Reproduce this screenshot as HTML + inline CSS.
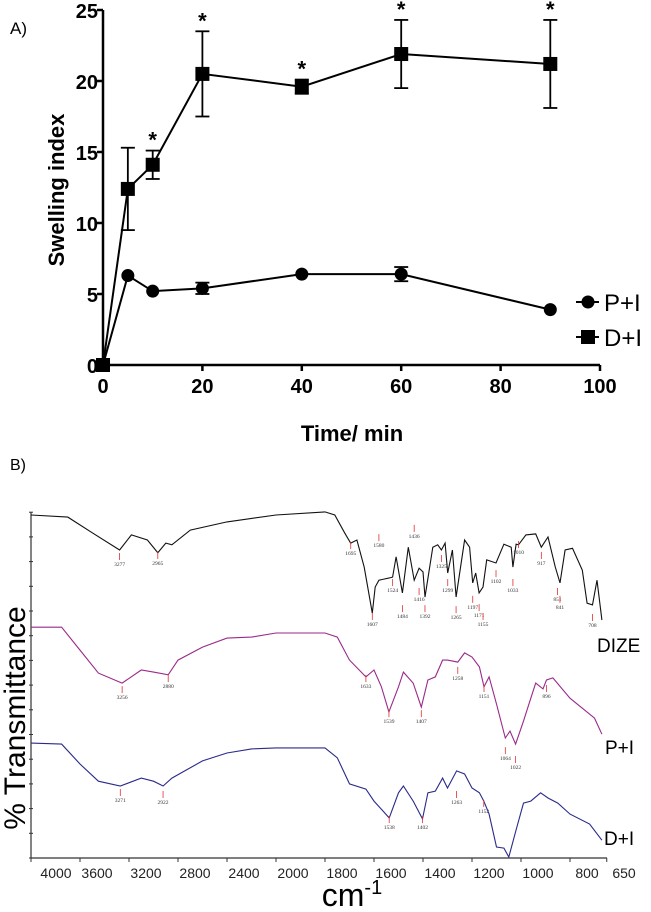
<!DOCTYPE html>
<html><head><meta charset="utf-8">
<style>
html,body{margin:0;padding:0;background:#fff;}
svg{display:block;font-family:"Liberation Sans",sans-serif;}
</style></head>
<body>
<svg id="fig" width="651" height="912" viewBox="0 0 651 912">
<g id="panelA"></g>
<g id="panelB"></g>
</svg>
<script>
// ---------- Panel A data ----------
const times = [0,5,10,20,40,60,90];
const dPlusI = [0,12.4,14.1,20.5,19.6,21.9,21.2];
const dPlusIErr = [0,2.9,1.0,3.0,0.5,2.4,3.1];
const pPlusI = [0,6.3,5.2,5.4,6.4,6.4,3.9];
const pPlusIErr = [0,0.2,0.2,0.4,0.2,0.5,0.2];
const starFlags = [0,0,1,1,1,1,1];
const xTicks = [0,20,40,60,80,100];
const yTicks = [0,5,10,15,20,25];

// ---------- Panel B data ----------
const wnTicks = [4000,3600,3200,2800,2400,2000,1800,1600,1400,1200,1000,800,650];
const dizeWn = [4000,3700,3500,3277,3180,3050,2965,2900,2850,2700,2400,2000,1800,1760,1720,1695,1670,1640,1607,1595,1580,1540,1524,1510,1484,1460,1436,1416,1400,1392,1360,1340,1325,1310,1299,1280,1265,1230,1210,1197,1185,1171,1155,1140,1102,1070,1040,1033,1020,1010,980,940,917,890,860,841,820,790,750,730,708,690,670];
const dizeT = [100,99.4,94.8,89.8,94.2,92.7,89,91.8,91.3,95.6,98,100,100.9,100,94.8,91.8,92.7,84.8,71.4,79,81,81.6,81.9,87.8,77.3,90.6,81,84.5,83.4,76.1,90.6,91.3,89.8,91.8,83.1,89.8,76.1,92.7,90.6,80.2,83.1,77.3,79,86.9,86,91.5,90.6,84.8,91.5,91.3,94.2,94.5,90.6,93.6,84.8,80.2,89.8,90.3,83.9,74.3,73.8,81,69.4];
const pWn = [4000,3750,3600,3450,3256,3100,3000,2880,2800,2600,2400,2200,2000,1800,1750,1700,1633,1600,1570,1539,1500,1480,1440,1407,1380,1350,1320,1300,1258,1230,1200,1170,1151,1130,1100,1064,1045,1022,990,960,940,910,896,870,800,700,670];
const pT = [67.3,67.3,60.6,53.9,51,54.8,54.2,53.4,57.7,61.5,64.1,64.4,65.6,65.6,64.4,57.7,52.8,54.8,49.9,42.6,49.9,54.2,51,44,51.9,52.8,57.7,57.7,57.1,59.8,58.6,55.7,49.9,52.8,44.9,35,37,33.2,39.9,46.6,51,49.3,51.9,52.5,46.6,40.8,36.1];
const dWn = [4000,3750,3600,3450,3271,3100,3000,2922,2850,2600,2400,2200,2000,1800,1750,1700,1633,1600,1538,1500,1480,1440,1402,1380,1350,1320,1300,1263,1230,1200,1170,1152,1130,1100,1070,1050,1020,990,960,920,890,850,800,720,670];
const dT = [33.5,33.2,27.4,22.4,21,23.3,22.4,21,23.3,28.3,30.6,31.8,32.1,32.1,29.2,21.6,20.1,16.6,11.7,19,21,16.6,11.4,19,19.5,23.3,20.4,25.4,24.5,20.4,19,16.6,12.8,3.2,2.9,0.3,8.2,16,16.6,19,17.5,16,12.8,9.9,5.2];
const dizePeaks = [3277,2965,1695,1580,1436,1524,1416,1484,1392,1607,1325,1299,1265,1197,1171,1155,1102,1033,1010,917,851,841,708];
const dizePeakLabelT = [86.3,86.6,89.5,91.8,94.5,78.7,76.1,71.1,71.1,68.8,85.7,78.7,70.8,73.8,71.4,68.8,81.3,78.7,89.8,86.6,76.1,73.8,68.5];
const pPeaks = [3256,2880,1633,1539,1407,1258,1151,1064,1022,896];
const pPeakLabelT = [47.5,50.7,50.7,40.5,40.5,53.1,47.8,29.7,27.1,47.8];
const dPeaks = [3271,2922,1538,1402,1263,1152];
const dPeakLabelT = [17.5,16.9,9.6,9.6,16.9,14.3];

const NS = "http://www.w3.org/2000/svg";
function mk(tag, attrs, parent){ const e=document.createElementNS(NS,tag); for(const k in attrs) e.setAttribute(k,attrs[k]); parent.appendChild(e); return e; }

// ---------- Panel A ----------
const A = document.getElementById('panelA');
const ax = v => 103 + v*(600-103)/100;
const ay = v => 365 - v*(365-10)/25;
let t;
t = mk('text',{x:10,y:34,'font-size':17},A); t.textContent='A)';
 
let l = mk('line',{x1:ax(0),y1:ay(0),x2:ax(100),y2:ay(0),stroke:'#000','stroke-width':2.5},A);
 
l = mk('line',{x1:ax(0),y1:ay(0),x2:ax(0),y2:ay(25),stroke:'#000','stroke-width':2.5},A);
 
xTicks.forEach(v=>{
  mk('line',{x1:ax(v),y1:ay(0),x2:ax(v),y2:ay(0)+6,stroke:'#000','stroke-width':2.5},A);
  const tt = mk('text',{x:ax(v),y:ay(0)+28,'font-size':20,'font-weight':'bold','text-anchor':'middle'},A);
  tt.textContent=v;
   
});
yTicks.forEach(v=>{
  mk('line',{x1:ax(0)-6,y1:ay(v),x2:ax(0),y2:ay(v),stroke:'#000','stroke-width':2.5},A);
  const tt = mk('text',{x:ax(0)-5,y:ay(v)+8,'font-size':20,'font-weight':'bold','text-anchor':'end'},A);
  tt.textContent=v;
   
});
t = mk('text',{x:352,y:441,'font-size':22,'font-weight':'bold','text-anchor':'middle'},A); t.textContent='Time/ min';
 
t = mk('text',{x:0,y:0,'font-size':22,'font-weight':'bold','text-anchor':'middle',transform:'translate(64,190) rotate(-90)'},A); t.textContent='Swelling index';
 

function series(vals, errs, shape, name){
  const g = mk('g',{},A);
   
  mk('polyline',{points:times.map((x,i)=>ax(x)+','+ay(vals[i])).join(' '),fill:'none',stroke:'#000','stroke-width':2},g);
  times.forEach((x,i)=>{
    if(errs[i]>0.25){
      const top=ay(vals[i]+errs[i]), bot=ay(vals[i]-errs[i]);
      mk('line',{x1:ax(x),y1:top,x2:ax(x),y2:bot,stroke:'#000','stroke-width':1.8},g);
      mk('line',{x1:ax(x)-7,y1:top,x2:ax(x)+7,y2:top,stroke:'#000','stroke-width':1.8},g);
      mk('line',{x1:ax(x)-7,y1:bot,x2:ax(x)+7,y2:bot,stroke:'#000','stroke-width':1.8},g);
    }
    let m;
    if(shape==='sq') m = mk('rect',{x:ax(x)-7,y:ay(vals[i])-7,width:14,height:14,fill:'#000'},g);
    else m = mk('circle',{cx:ax(x),cy:ay(vals[i]),r:6.5,fill:'#000'},g);
     
  });
}
series(pPlusI,pPlusIErr,'c','series-p-plus-i');
series(dPlusI,dPlusIErr,'sq','series-d-plus-i');
times.forEach((x,i)=>{
  if(starFlags[i]){
    const s = mk('text',{x:ax(x),y:ay(dPlusI[i]+dPlusIErr[i])-3,'font-size':22,'font-weight':'bold','text-anchor':'middle'},A);
    s.textContent='*';
     
  }
});
// legend
const lg = mk('g',{},A);
 
mk('line',{x1:576,y1:302,x2:599,y2:302,stroke:'#000','stroke-width':2},lg);
mk('circle',{cx:588,cy:302,r:6.5,fill:'#000'},lg);
t = mk('text',{x:604,y:311,'font-size':24},lg); t.textContent='P+I';
 
mk('line',{x1:576,y1:337,x2:599,y2:337,stroke:'#000','stroke-width':2},lg);
mk('rect',{x:581,y:330,width:14,height:14,fill:'#000'},lg);
t = mk('text',{x:604,y:346,'font-size':24},lg); t.textContent='D+I';
 

// ---------- Panel B ----------
const B = document.getElementById('panelB');
const bx = w => w>=2000 ? 31 + (4000-w)*49/400 : 276 + (2000-w)*49/200;
const by = v => 858 - v*3.43;
t = mk('text',{x:10,y:470,'font-size':16},B); t.textContent='B)';
 
l = mk('line',{x1:31,y1:858,x2:607,y2:858,stroke:'#333','stroke-width':1.2},B);
 
l = mk('line',{x1:31,y1:512,x2:31,y2:858,stroke:'#333','stroke-width':1.2},B);
 
for(let y=858;y>=512;y-=24.7) mk('line',{x1:29,y1:y,x2:33,y2:y,stroke:'#333','stroke-width':1},B);
wnTicks.forEach((w,i)=>{
  mk('line',{x1:bx(w),y1:858,x2:bx(w),y2:862,stroke:'#333','stroke-width':1},B);
  const lx = i===0 ? 56 : (w===650 ? 624 : bx(w)+17);
  const tt = mk('text',{x:lx,y:878,'font-size':14,'text-anchor':'middle',fill:'#222'},B);
  tt.textContent=w;
   
});
t = mk('text',{x:352,y:906,'font-size':32,'text-anchor':'middle'},B); t.textContent='cm';
 
const sup = mk('tspan',{'font-size':20,dy:-12},t); sup.textContent='-1';
t = mk('text',{x:0,y:0,'font-size':30,'text-anchor':'middle',transform:'translate(25,718) rotate(-90)'},B); t.textContent='% Transmittance';
 

function spectrum(wn, T, color, name, peaks, peakT, label, lx, ly){
  const g = mk('g',{},B);
   
  mk('polyline',{points:wn.map((w,i)=>bx(w).toFixed(1)+','+by(T[i]).toFixed(1)).join(' '),fill:'none',stroke:color,'stroke-width':1.1},g);
  peaks.forEach((p,i)=>{
    const x=bx(p), y=by(peakT[i]);
    mk('line',{x1:x,y1:y-9,x2:x,y2:y-2,stroke:'#e03030','stroke-width':0.8},g);
    const pt = mk('text',{x:x,y:y+4,'font-size':5.5,'text-anchor':'middle','font-family':'Liberation Serif, serif',fill:'#333'},g);
    pt.textContent=p;
     
  });
  const st = mk('text',{x:lx,y:ly,'font-size':19},g); st.textContent=label;
   
}
spectrum(dizeWn,dizeT,'#111','spectrum-dize',dizePeaks,dizePeakLabelT,'DIZE',597,652);
spectrum(pWn,pT,'#9a2a8a','spectrum-p-plus-i',pPeaks,pPeakLabelT,'P+I',605,754);
spectrum(dWn,dT,'#2a2a8a','spectrum-d-plus-i',dPeaks,dPeakLabelT,'D+I',604,845);
</script>
</body></html>
